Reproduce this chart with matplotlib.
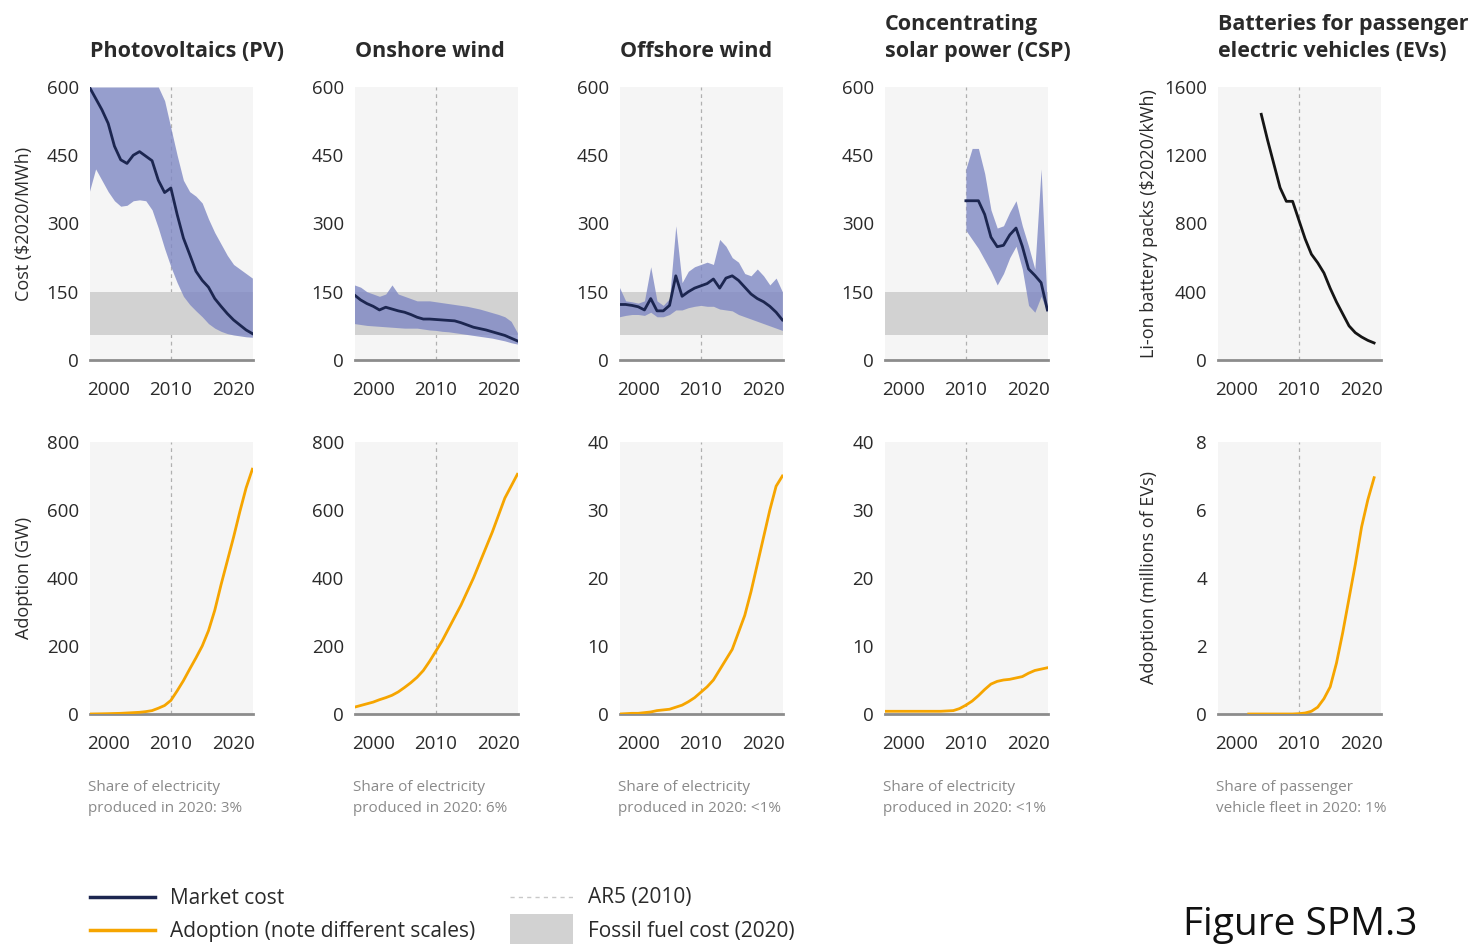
import numpy as np
import matplotlib
matplotlib.use("Agg")
import matplotlib.pyplot as plt
from matplotlib.patches import Rectangle

plt.rcParams['font.family'] = ['Open Sans', 'DejaVu Sans']

# -------------------------------
# Data
# -------------------------------
years = list(range(1997, 2024))          # 1997 .. 2023
csp_years = list(range(2010, 2024))      # CSP cost only from 2010
bat_years = list(range(2004, 2023))      # battery pack cost
ev_years = list(range(2002, 2023))       # EV fleet

titles = ["Photovoltaics (PV)", "Onshore wind", "Offshore wind",
          "Concentrating\nsolar power (CSP)",
          "Batteries for passenger\nelectric vehicles (EVs)"]

share_notes = ["Share of electricity\nproduced in 2020: 3%",
               "Share of electricity\nproduced in 2020: 6%",
               "Share of electricity\nproduced in 2020: <1%",
               "Share of electricity\nproduced in 2020: <1%",
               "Share of passenger\nvehicle fleet in 2020: 1%"]

# cost, $2020/MWh
pv_cost = [600, 575, 550, 520, 470, 440, 432, 450, 458, 448, 438, 395, 368, 378,
           320, 268, 232, 195, 175, 160, 135, 118, 102, 88, 77, 66, 58]
pv_hi = [600, 600, 600, 600, 600, 600, 600, 600, 600, 600, 600, 600, 570, 510,
         450, 395, 370, 360, 345, 310, 280, 255, 230, 210, 200, 190, 180]
pv_lo = [370, 420, 395, 370, 350, 338, 340, 350, 352, 350, 330, 290, 245, 205,
         170, 140, 122, 108, 95, 80, 70, 63, 58, 55, 53, 51, 50]

on_cost = [143, 132, 124, 118, 110, 116, 112, 108, 105, 100, 94, 90, 90, 89,
           88, 87, 86, 82, 77, 72, 69, 66, 62, 58, 54, 48, 42]
on_hi = [165, 160, 150, 145, 140, 145, 165, 145, 140, 135, 130, 130, 130, 128,
         126, 124, 122, 120, 118, 115, 112, 108, 104, 100, 95, 85, 60]
on_lo = [80, 78, 76, 75, 74, 73, 72, 71, 70, 70, 70, 68, 66, 65,
         63, 62, 60, 58, 56, 54, 52, 50, 48, 45, 42, 38, 35]

off_cost = [122, 122, 120, 117, 110, 135, 108, 108, 120, 185, 140, 150, 158, 163,
            168, 178, 158, 180, 185, 175, 160, 145, 135, 128, 118, 105, 88]
off_hi = [160, 130, 128, 125, 130, 205, 130, 120, 135, 295, 170, 195, 205, 210,
          215, 210, 265, 250, 225, 215, 190, 185, 200, 185, 165, 180, 150]
off_lo = [95, 98, 100, 100, 98, 105, 95, 95, 100, 110, 110, 115, 118, 120,
          118, 118, 112, 110, 108, 100, 95, 90, 85, 80, 75, 70, 65]

csp_cost = [350, 350, 350, 320, 270, 249, 252, 275, 290, 250, 200, 186, 170, 110]
csp_hi = [420, 465, 465, 410, 330, 290, 295, 325, 350, 295, 250, 200, 420, 110]
csp_lo = [285, 265, 245, 220, 195, 165, 190, 225, 250, 200, 120, 105, 140, 105]

# Li-ion battery packs, $2020/kWh
bat_cost = [1440, 1290, 1150, 1010, 930, 930, 820, 710, 620, 570, 510, 420,
            340, 270, 200, 160, 135, 115, 100]

fossil_range = (55, 150)

# adoption
pv_adopt = [0, 0.3, 0.6, 1, 1.5, 2, 3, 4, 5, 7, 10, 17, 25, 40, 68, 98, 132,
            165, 200, 245, 305, 380, 450, 520, 595, 665, 720]
on_adopt = [20, 25, 30, 35, 42, 48, 55, 65, 78, 92, 108, 128, 155, 185, 215,
            250, 285, 320, 360, 400, 445, 490, 535, 585, 635, 670, 705]
off_adopt = [0, 0.05, 0.1, 0.1, 0.2, 0.3, 0.5, 0.6, 0.7, 1.0, 1.3, 1.8, 2.4,
             3.2, 4.0, 5.0, 6.5, 8.0, 9.5, 12.0, 14.5, 18.0, 22.0, 26.0, 30.0,
             33.5, 35.0]
csp_adopt = [0.4, 0.4, 0.4, 0.4, 0.4, 0.4, 0.4, 0.4, 0.4, 0.4, 0.45, 0.5, 0.8,
             1.3, 1.9, 2.7, 3.6, 4.4, 4.8, 5.0, 5.1, 5.3, 5.5, 6.0, 6.4, 6.6, 6.8]
ev_adopt = [0, 0, 0, 0, 0, 0, 0, 0, 0.01, 0.03, 0.08, 0.2, 0.45, 0.8, 1.5,
            2.4, 3.4, 4.4, 5.5, 6.3, 6.95]

cost_series = [(years, pv_cost, pv_hi, pv_lo),
               (years, on_cost, on_hi, on_lo),
               (years, off_cost, off_hi, off_lo),
               (csp_years, csp_cost, csp_hi, csp_lo)]
adopt_series = [(years, pv_adopt), (years, on_adopt), (years, off_adopt),
                (years, csp_adopt), (ev_years, ev_adopt)]
adopt_ylim = [800, 800, 40, 40, 8]
adopt_ticks = [[0, 200, 400, 600, 800]] * 2 + [[0, 10, 20, 30, 40]] * 2 + [[0, 2, 4, 6, 8]]

# -------------------------------
# Styling
# -------------------------------
NAVY = "#1c2650"
BAND = "#7f88c4"
ORANGE = "#f6a500"
FOSSIL = "#d2d2d2"
PANEL_BG = "#f5f5f5"
AXIS = "#8c8c8c"
TXT = "#2a2a2a"

W, H = 1474, 944
fig = plt.figure(figsize=(W / 100, H / 100), dpi=100)

col_left = [90, 355, 620, 885, 1218]
panel_w = 163
top_row = (360, 273)      # pixel y of zero line, height
bot_row = (714, 272)
xlim = (1997.1, 2023.1)


def make_ax(left, row):
    y0, h = row
    ax = fig.add_axes([left / W, 1 - y0 / H, panel_w / W, h / H])
    ax.set_facecolor(PANEL_BG)
    for s in ax.spines.values():
        s.set_visible(False)
    ax.set_xlim(*xlim)
    ax.set_xticks([2000, 2010, 2020])
    ax.tick_params(length=0, labelsize=13.5, labelcolor=TXT)
    ax.tick_params(axis='x', pad=15)
    ax.tick_params(axis='y', pad=8)
    ax.axhline(0, color=AXIS, lw=2, zorder=3, clip_on=False)
    ax.axvline(2010, color="#b0b0b0", lw=0.9, ls=(0, (3, 3)), zorder=1)
    return ax


# top row: costs
for i in range(5):
    ax = make_ax(col_left[i], top_row)
    if i < 4:
        x, c, hi, lo = cost_series[i]
        ax.axhspan(*fossil_range, color=FOSSIL, zorder=1, lw=0)
        ax.fill_between(x, lo, hi, color=BAND, alpha=0.8, lw=0, zorder=2)
        ax.plot(x, c, color=NAVY, lw=2, zorder=4)
        ax.set_ylim(0, 600)
        ax.set_yticks([0, 150, 300, 450, 600])
    else:
        ax.plot(bat_years, bat_cost, color="#151515", lw=2, zorder=4)
        ax.set_ylim(0, 1600)
        ax.set_yticks([0, 400, 800, 1200, 1600])
    if i == 0:
        ax.set_ylabel("Cost ($2020/MWh)", fontsize=13, color=TXT)
        ax.yaxis.set_label_coords(-0.35, 0.5)
    if i == 4:
        ax.set_ylabel("Li-on battery packs ($2020/kWh)", fontsize=13, color=TXT)
        ax.yaxis.set_label_coords(-0.37, 0.5)
    fig.text(col_left[i] / W, 1 - 62 / H, titles[i], fontsize=15.5,
             fontweight='bold', color=TXT, ha='left', va='bottom',
             linespacing=1.4)

# bottom row: adoption
for i in range(5):
    ax = make_ax(col_left[i], bot_row)
    x, a = adopt_series[i]
    ax.plot(x, a, color=ORANGE, lw=2, zorder=4)
    ax.set_ylim(0, adopt_ylim[i])
    ax.set_yticks(adopt_ticks[i])
    if i == 0:
        ax.set_ylabel("Adoption (GW)", fontsize=13, color=TXT)
        ax.yaxis.set_label_coords(-0.35, 0.5)
    if i == 4:
        ax.set_ylabel("Adoption (millions of EVs)", fontsize=13, color=TXT)
        ax.yaxis.set_label_coords(-0.37, 0.5)
    fig.text((col_left[i] - 2) / W, 1 - 780 / H, share_notes[i], fontsize=11,
             color="#8a8a8a", ha='left', va='top', linespacing=1.5)

# -------------------------------
# Legend (drawn on an overlay in pixel units)
# -------------------------------
lg = fig.add_axes([0, 0, 1, 1])
lg.set_xlim(0, W)
lg.set_ylim(H, 0)
lg.axis('off')
lg.plot([90, 155], [897, 897], color=NAVY, lw=2.5)
lg.plot([90, 155], [930, 930], color=ORANGE, lw=2.5)
lg.plot([510, 575], [897, 897], color="#c8c8c8", lw=1, ls=(0, (3, 3)))
lg.add_patch(Rectangle((510, 914), 63, 32, color=FOSSIL, lw=0))
for tx, ty, label in [(170, 898, "Market cost"),
                      (170, 931, "Adoption (note different scales)"),
                      (588, 898, "AR5 (2010)"),
                      (588, 931, "Fossil fuel cost (2020)")]:
    lg.text(tx, ty, label, fontsize=15, color=TXT, va='center', ha='left')

fig.text(1183 / W, 1 - 935 / H, "Figure SPM.3", fontsize=28, color="#111111",
         ha='left', va='baseline')

fig.savefig("out.png", dpi=100)
